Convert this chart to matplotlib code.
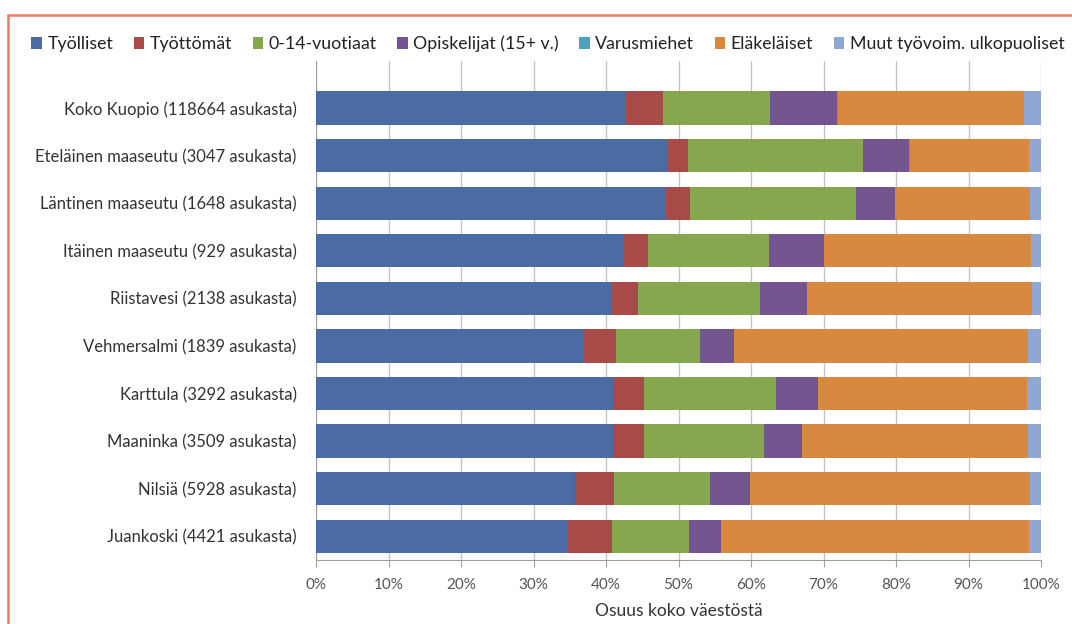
import numpy as np
import matplotlib
matplotlib.use("Agg")
import matplotlib.pyplot as plt
from matplotlib.patches import Patch, Rectangle

plt.rcParams['font.family'] = ['Lato', 'DejaVu Sans']

areas = ['Koko Kuopio (118664 asukasta)', 'Eteläinen maaseutu (3047 asukasta)',
         'Läntinen maaseutu (1648 asukasta)', 'Itäinen maaseutu (929 asukasta)',
         'Riistavesi (2138 asukasta)', 'Vehmersalmi (1839 asukasta)',
         'Karttula (3292 asukasta)', 'Maaninka (3509 asukasta)',
         'Nilsiä (5928 asukasta)', 'Juankoski (4421 asukasta)']

# shares in percent
tyolliset    = [42.8, 48.6, 48.3, 42.5, 40.8, 36.9, 40.9, 40.9, 35.7, 34.8]
tyottomat    = [5.1, 2.7, 3.3, 3.3, 3.6, 4.5, 4.3, 4.3, 5.4, 6.0]
lapset       = [14.7, 24.1, 22.9, 16.7, 16.8, 11.6, 18.2, 16.6, 13.3, 10.7]
opiskelijat  = [9.2, 6.4, 5.3, 7.6, 6.5, 4.7, 5.9, 5.3, 5.5, 4.3]
varusmiehet  = [0.2, 0.1, 0.0, 0.0, 0.0, 0.0, 0.0, 0.0, 0.0, 0.0]
elakelaiset  = [25.7, 16.5, 18.7, 28.5, 31.0, 40.5, 28.7, 31.1, 38.6, 42.5]
muut         = [2.3, 1.7, 1.5, 1.4, 1.3, 1.8, 2.0, 1.8, 1.5, 1.7]

series = ['Työlliset', 'Työttömät', '0-14-vuotiaat', 'Opiskelijat (15+ v.)',
          'Varusmiehet', 'Eläkeläiset', 'Muut työvoim. ulkopuoliset']
values = [tyolliset, tyottomat, lapset, opiskelijat, varusmiehet, elakelaiset, muut]
colors = ['#4A6CA3', '#A84A47', '#87A74F', '#74558F', '#4BA3BE', '#D9883F', '#90A7D3']

fig = plt.figure(figsize=(10.72, 6.24), dpi=100)
ax = fig.add_axes([316 / 1072, 1 - 560 / 624, (1041 - 316) / 1072, (560 - 61) / 624])

y = np.arange(len(areas))
left = np.zeros(len(areas))
for name, vals, col in zip(series, values, colors):
    vals = np.array(vals)
    ax.barh(y, vals, left=left, height=0.7, color=col, edgecolor='none', zorder=3)
    left += vals

ax.set_xlim(0, 100)
ax.set_ylim(9.5, -0.99)
ax.set_yticks(y)
ax.set_yticklabels(areas, fontsize=12, color='#333333')
ax.tick_params(axis='y', length=0, pad=14)
ax.set_xticks(np.arange(0, 101, 10))
ax.set_xticklabels([f'{v}%' for v in range(0, 101, 10)], fontsize=11, color='#555555')
ax.tick_params(axis='x', length=5, color='#A0A0A0', pad=8)
ax.grid(axis='x', color='#C4C4C4', linewidth=1, zorder=0)
for s in ['top', 'right']:
    ax.spines[s].set_visible(False)
for s in ['left', 'bottom']:
    ax.spines[s].set_color('#A0A0A0')
ax.set_xlabel('Osuus koko väestöstä', fontsize=12.5, color='#333333', labelpad=8)

handles = [Patch(facecolor=c, edgecolor='none') for c in colors]
fig.legend(handles, series, loc='center', bbox_to_anchor=(548 / 1072, 1 - 44 / 624),
           ncol=7, frameon=False, fontsize=12.8, handlelength=0.6, handleheight=0.6,
           handletextpad=0.3, columnspacing=1.15, labelcolor='#222222')

top = 1 - 15 / 624
fig.patches.append(Rectangle((8 / 1072, -0.2), 1.2, top + 0.2,
                             transform=fig.transFigure, fill=False,
                             edgecolor='#F07A6C', linewidth=1.8))

fig.savefig('out.png', dpi=100)
